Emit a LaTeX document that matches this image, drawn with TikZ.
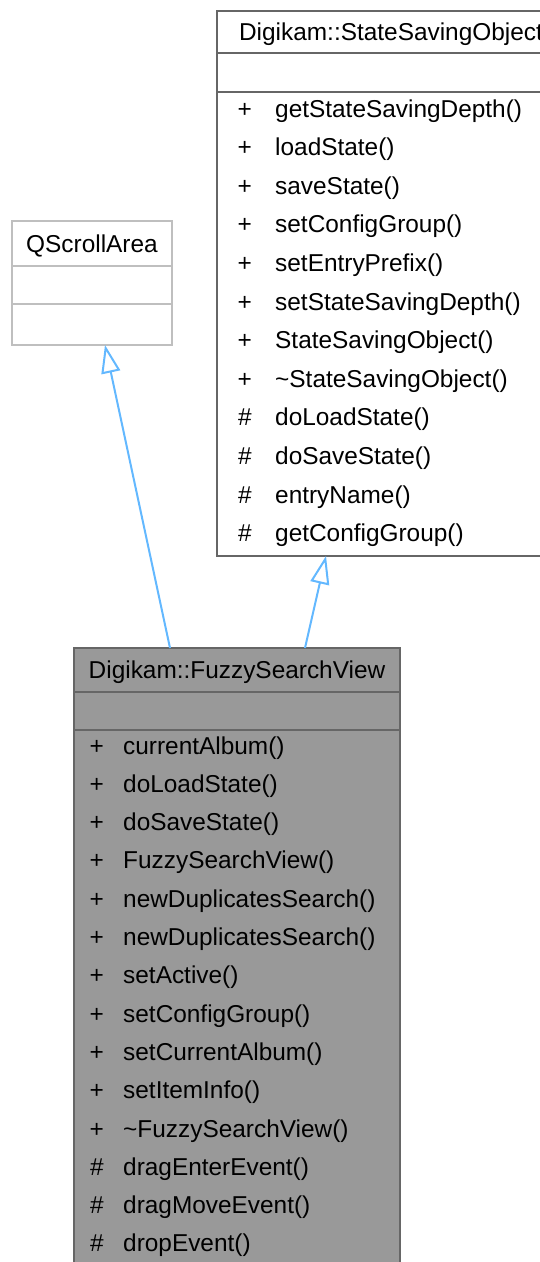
\documentclass[tikz,border=0pt]{standalone}
\usepackage{fontspec}
\setmainfont{Liberation Sans}
\usetikzlibrary{arrows.meta,positioning,calc}
\definecolor{doxyEdge}{HTML}{666666}
\definecolor{doxyFill}{HTML}{999999}
\definecolor{doxyGrey}{HTML}{BFBFBF}
\definecolor{doxyBlue}{HTML}{63B8FF}

\begin{document}
\begin{tikzpicture}[x=1pt,y=-1pt,font={\fontsize{24.4pt}{29pt}\selectfont},node distance=0pt]
    \tikzset{cell/.style={draw=doxyEdge,line width=2pt,anchor=north west,inner sep=0pt,outer sep=0pt},
      title/.style={cell,text height=17.5pt,text depth=0pt},
      vis/.style={anchor=base east,inner sep=0pt},
      member/.style={anchor=base west,inner sep=0pt},
      inherit/.style={doxyBlue,line width=2pt,-{Triangle[open,length=28pt,width=19pt,fill=white]}}}
    \useasboundingbox (0,0) rectangle (539,1262);
    % QScrollArea
    \node[title,draw=doxyGrey,minimum width=160pt,minimum height=45pt] (qsa) at (12,221) {QScrollArea};
    \node[cell,draw=doxyGrey,minimum width=160pt,minimum height=38pt,below=of qsa] (qsaattr) {};
    \node[cell,draw=doxyGrey,minimum width=160pt,minimum height=41pt,below=of qsaattr] (qsaops) {};
    % Digikam::StateSavingObject
    \node[title,minimum width=348pt,minimum height=42pt] (sso) at (217,11) {Digikam::StateSavingObject};
    \node[cell,minimum width=348pt,minimum height=39pt,below=of sso] (ssoattr) {};
    \node[cell,minimum width=348pt,minimum height=464pt,below=of ssoattr] (ssoops) {};
    \foreach \v/\m [count=\i from 0] in {+/getStateSavingDepth(),+/loadState(),+/saveState(),
        +/setConfigGroup(),+/setEntryPrefix(),+/setStateSavingDepth(),+/StateSavingObject(),
        +/\textasciitilde StateSavingObject(),\#/doLoadState(),\#/doSaveState(),\#/entryName(),
        \#/getConfigGroup()}{
      \node[vis] (ssov\i) at (252,{117+38.6*\i}) {\v};
      \node[member] (ssom\i) at (275,{117+38.6*\i}) {\m};
    }
    % Digikam::FuzzySearchView
    \node[title,fill=doxyFill,minimum width=326pt,minimum height=44pt] (fsv) at (74,648) {Digikam::FuzzySearchView};
    \node[cell,fill=doxyFill,minimum width=326pt,minimum height=38pt,below=of fsv] (fsvattr) {};
    \node[cell,fill=doxyFill,minimum width=326pt,minimum height=545pt,below=of fsvattr] (fsvops) {};
    \foreach \v/\m [count=\i from 0] in {+/currentAlbum(),+/doLoadState(),+/doSaveState(),
        +/FuzzySearchView(),+/newDuplicatesSearch(),+/newDuplicatesSearch(),+/setActive(),
        +/setConfigGroup(),+/setCurrentAlbum(),+/setItemInfo(),+/\textasciitilde FuzzySearchView(),
        \#/dragEnterEvent(),\#/dragMoveEvent(),\#/dropEvent()}{
      \node[vis] (fsvv\i) at (104,{754+38.3*\i}) {\v};
      \node[member] (fsvm\i) at (123,{754+38.3*\i}) {\m};
    }
    % inheritance
    \coordinate (qsafoot) at ($(qsaops.south west)+(93,0)$);
    \coordinate (ssofoot) at ($(ssoops.south west)+(109,0)$);
    \coordinate (fsvleft) at ($(fsv.north west)+(96,0)$);
    \coordinate (fsvright) at ($(fsv.north west)+(231,0)$);
    \draw[inherit] (fsvleft) -- (qsafoot);
    \draw[inherit] (fsvright) -- (ssofoot);
  \end{tikzpicture}
\end{document}
